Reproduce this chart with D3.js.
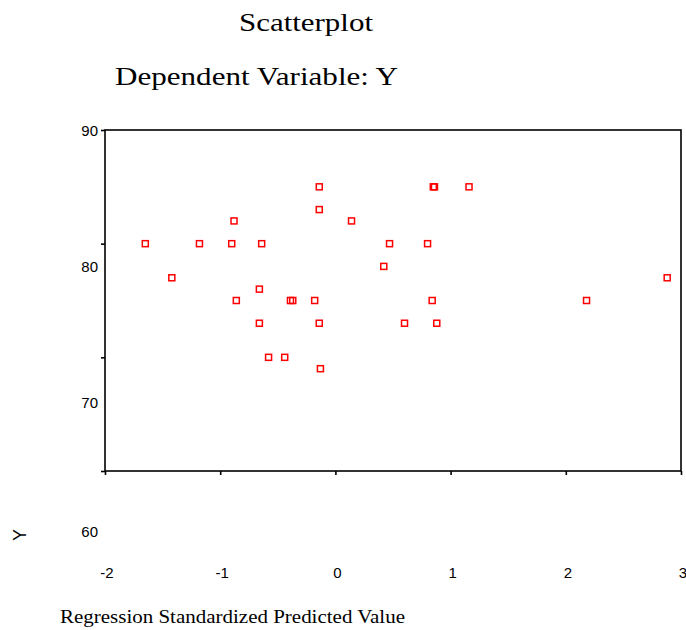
<!DOCTYPE html>
<html>
<head>
<meta charset="utf-8">
<script src="https://cdn.jsdelivr.net/npm/d3@7"></script>
<style>
  body { margin: 0; background: #fff; }
  svg { display: block; }
</style>
</head>
<body>
<div id="chart"></div>
<script>
// data
var predicted = [-0.14, -0.14, -0.88, 0.14, -1.65, -1.18, -0.90, -0.64, 0.47, 0.42,
                 -1.42, -0.66, -0.86, -0.39, -0.37, -0.18, -0.66, -0.14, -0.58, -0.44,
                 -0.13, 0.85, 0.86, 1.16, 0.80, 2.88, 0.84, 2.18, 0.60, 0.88];
var observed  = [85, 83, 82, 82, 80, 80, 80, 80, 80, 78,
                 77, 76, 75, 75, 75, 75, 73, 73, 70, 70,
                 69, 85, 85, 85, 80, 77, 75, 75, 73, 73];
var xTicks = [-2, -1, 0, 1, 2, 3];
var yTicks = [90, 80, 70, 60];

var width = 686, height = 630;
var box = {left: 105, right: 681, top: 130, bottom: 471};

var svg = d3.select("#chart").append("svg")
    .attr("width", width)
    .attr("height", height);

// scales
var x = d3.scaleLinear().domain([-2, 3]).range([box.left, box.right]);
var y = d3.scaleLinear().domain([60, 90]).range([box.bottom, box.top]);
// the tick labels on the y side sit lower than their ticks in the reference
var yLabel = d3.scaleLinear().domain([90, 70, 60]).range([131, 403, 532]);

// titles
svg.append("text")
    .attr("x", 306).attr("y", 31)
    .attr("text-anchor", "middle")
    .attr("textLength", 134).attr("lengthAdjust", "spacingAndGlyphs")
    .style("font-family", "'Liberation Serif', serif")
    .style("font-size", "26px")
    .text("Scatterplot");

svg.append("text")
    .attr("x", 115).attr("y", 85)
    .attr("textLength", 283).attr("lengthAdjust", "spacingAndGlyphs")
    .style("font-family", "'Liberation Serif', serif")
    .style("font-size", "26px")
    .text("Dependent Variable: Y");

// frame
svg.append("rect")
    .attr("x", box.left).attr("y", box.top)
    .attr("width", box.right - box.left)
    .attr("height", box.bottom - box.top)
    .attr("fill", "none")
    .attr("stroke", "#000")
    .attr("stroke-width", 1.6);

// y ticks
var yAxis = svg.append("g")
    .attr("transform", "translate(" + box.left + ",0)")
    .call(d3.axisLeft(y).tickValues(yTicks).tickSize(4).tickFormat(""));
yAxis.select(".domain").remove();
yAxis.selectAll("line").attr("stroke-width", 1.6);

svg.append("g").selectAll("text")
    .data(yTicks)
  .enter().append("text")
    .attr("x", 98)
    .attr("y", function(d) { return yLabel(d); })
    .attr("dy", "0.35em")
    .attr("text-anchor", "end")
    .style("font-family", "'Liberation Sans', Arial, sans-serif")
    .style("font-size", "15px")
    .text(function(d) { return d; });

// x ticks
var xAxis = svg.append("g")
    .attr("transform", "translate(0," + box.bottom + ")")
    .call(d3.axisBottom(x).tickValues(xTicks).tickSize(4).tickFormat(""));
xAxis.select(".domain").remove();
xAxis.selectAll("line").attr("stroke-width", 1.6);

svg.append("g").selectAll("text")
    .data(xTicks)
  .enter().append("text")
    .attr("x", function(d) { return x(d) + 2; })
    .attr("y", 578)
    .attr("text-anchor", "middle")
    .style("font-family", "'Liberation Sans', Arial, sans-serif")
    .style("font-size", "15px")
    .text(function(d) { return d; });

// axis titles
svg.append("text")
    .attr("transform", "translate(26,535) rotate(-90)")
    .attr("text-anchor", "middle")
    .style("font-family", "'Liberation Sans', Arial, sans-serif")
    .style("font-size", "18px")
    .text("Y");

svg.append("text")
    .attr("x", 60).attr("y", 623)
    .attr("textLength", 345).attr("lengthAdjust", "spacingAndGlyphs")
    .style("font-family", "'Liberation Serif', serif")
    .style("font-size", "18px")
    .text("Regression Standardized Predicted Value");

// points
var data = predicted.map(function(d, i) { return {x: d, y: observed[i]}; });
svg.append("g").selectAll("rect")
    .data(data)
  .enter().append("rect")
    .attr("x", function(d) { return x(d.x) - 3; })
    .attr("y", function(d) { return y(d.y) - 3; })
    .attr("width", 6)
    .attr("height", 6)
    .attr("fill", "none")
    .attr("stroke", "#ff0000")
    .attr("stroke-width", 1.5);
</script>
</body>
</html>
